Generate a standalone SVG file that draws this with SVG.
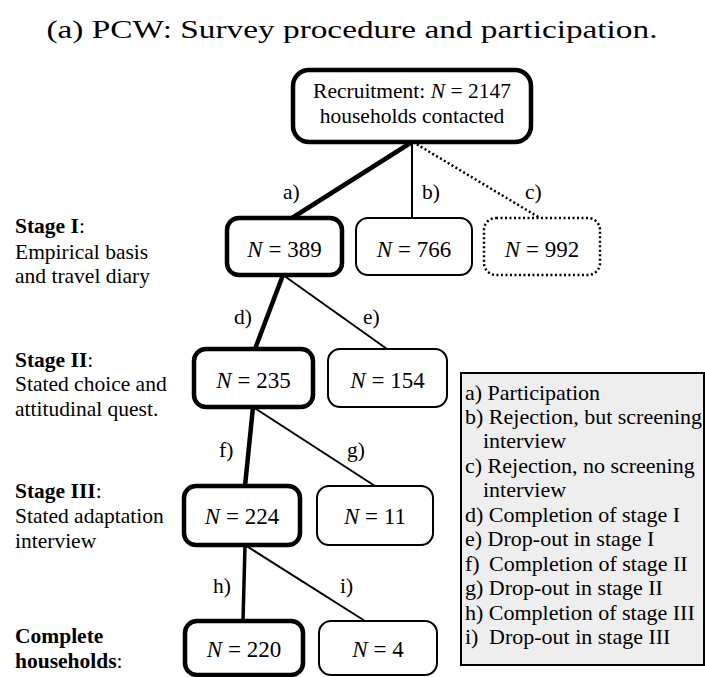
<svg xmlns="http://www.w3.org/2000/svg" width="705" height="677" viewBox="0 0 705 677" font-family="'Liberation Serif', 'Times New Roman', serif">
<style>
text{font-family:"Liberation Serif","Times New Roman",serif;fill:#000}
.t{font-size:21.5px}
.lg{font-size:22px}
.n{font-size:23px;text-anchor:middle}
.it{font-style:italic}
.b{font-weight:bold}
.box{fill:#fff;stroke:#000}
.thick{stroke-width:4.5}
.thin{stroke-width:2}
.dot{stroke-width:2.5;stroke-dasharray:2 2.5}
.ln{stroke:#000;fill:none}
</style>
<rect width="705" height="677" fill="#fff"/>
<text x="352" y="38" font-size="26" text-anchor="middle" textLength="611" lengthAdjust="spacingAndGlyphs">(a) PCW: Survey procedure and participation.</text>

<g id="connectors">
<line class="ln" x1="412" y1="142" x2="292" y2="218" stroke-width="4.5"/>
<line class="ln" x1="412" y1="142" x2="412" y2="218" stroke-width="2"/>
<line class="ln" x1="413" y1="142" x2="540" y2="218" stroke-width="2.5" stroke-dasharray="2 2.5"/>
<line class="ln" x1="283" y1="275" x2="255" y2="349" stroke-width="4.5"/>
<line class="ln" x1="283" y1="275" x2="387" y2="349" stroke-width="2"/>
<line class="ln" x1="253" y1="407" x2="245" y2="486" stroke-width="4.5"/>
<line class="ln" x1="253" y1="407" x2="375" y2="486" stroke-width="2"/>
<line class="ln" x1="245" y1="545" x2="243" y2="621" stroke-width="3.5"/>
<line class="ln" x1="245" y1="545" x2="365" y2="621" stroke-width="2"/>
<text class="t" x="283" y="199">a)</text>
<text class="t" x="422" y="199">b)</text>
<text class="t" x="525" y="199">c)</text>
<text class="t" x="234" y="324">d)</text>
<text class="t" x="363" y="324">e)</text>
<text class="t" x="219" y="457">f)</text>
<text class="t" x="347" y="457">g)</text>
<text class="t" x="213" y="593">h)</text>
<text class="t" x="340" y="593">i)</text>
</g>

<g id="root">
<rect class="box thick" x="293" y="70" width="238" height="72" rx="16"/>
<text class="t" x="412" y="98" text-anchor="middle">Recruitment: <tspan class="it">N</tspan> = 2147</text>
<text class="t" x="412" y="123" text-anchor="middle">households contacted</text>
</g>
<g id="n389">
<rect class="box thick" x="227" y="218" width="115" height="57" rx="12"/>
<text class="n" x="284.5" y="257"><tspan class="it">N</tspan> = 389</text>
</g>
<g id="n766">
<rect class="box thin" x="356" y="218" width="116" height="57" rx="12"/>
<text class="n" x="414" y="257"><tspan class="it">N</tspan> = 766</text>
</g>
<g id="n992">
<rect class="box dot" x="484" y="218" width="116" height="57" rx="12"/>
<text class="n" x="542" y="257"><tspan class="it">N</tspan> = 992</text>
</g>
<g id="n235">
<rect class="box thick" x="194" y="349" width="119" height="58" rx="12"/>
<text class="n" x="253.5" y="388"><tspan class="it">N</tspan> = 235</text>
</g>
<g id="n154">
<rect class="box thin" x="328" y="349" width="119" height="58" rx="12"/>
<text class="n" x="387.5" y="388"><tspan class="it">N</tspan> = 154</text>
</g>
<g id="n224">
<rect class="box thick" x="184" y="486" width="116" height="59" rx="12"/>
<text class="n" x="242" y="524"><tspan class="it">N</tspan> = 224</text>
</g>
<g id="n11">
<rect class="box thin" x="317" y="486" width="116" height="59" rx="12"/>
<text class="n" x="375" y="524"><tspan class="it">N</tspan> = 11</text>
</g>
<g id="n220">
<rect class="box thick" x="185" y="621" width="118" height="54" rx="12"/>
<text class="n" x="244" y="657"><tspan class="it">N</tspan> = 220</text>
</g>
<g id="n4">
<rect class="box thin" x="319" y="621" width="118" height="54" rx="12"/>
<text class="n" x="378" y="657"><tspan class="it">N</tspan> = 4</text>
</g>

<g id="stage-labels">
<text class="t" x="15" y="233"><tspan class="b">Stage I</tspan>:</text>
<text class="t" x="15" y="259">Empirical basis</text>
<text class="t" x="15" y="283">and travel diary</text>
<text class="t" x="15" y="367"><tspan class="b">Stage II</tspan>:</text>
<text class="t" x="15" y="391">Stated choice and</text>
<text class="t" x="15" y="416">attitudinal quest.</text>
<text class="t" x="15" y="498"><tspan class="b">Stage III</tspan>:</text>
<text class="t" x="15" y="523">Stated adaptation</text>
<text class="t" x="15" y="548">interview</text>
<text class="t b" x="15" y="643">Complete</text>
<text class="t" x="15" y="668"><tspan class="b">households</tspan>:</text>
</g>

<g id="legend">
<rect x="461" y="373" width="243" height="292" fill="#eeeeee" stroke="#000" stroke-width="2"/>
<text class="lg" x="465" y="400">a) Participation</text>
<text class="lg" x="465" y="424">b) Rejection, but screening</text>
<text class="lg" x="483" y="448">interview</text>
<text class="lg" x="465" y="473">c) Rejection, no screening</text>
<text class="lg" x="483" y="497">interview</text>
<text class="lg" x="465" y="522">d) Completion of stage I</text>
<text class="lg" x="465" y="546">e) Drop-out in stage I</text>
<text class="lg" x="465" y="571">f)<tspan x="489">Completion of stage II</tspan></text>
<text class="lg" x="465" y="595">g) Drop-out in stage II</text>
<text class="lg" x="465" y="620">h) Completion of stage III</text>
<text class="lg" x="465" y="644">i)<tspan x="489">Drop-out in stage III</tspan></text>
</g>
</svg>
